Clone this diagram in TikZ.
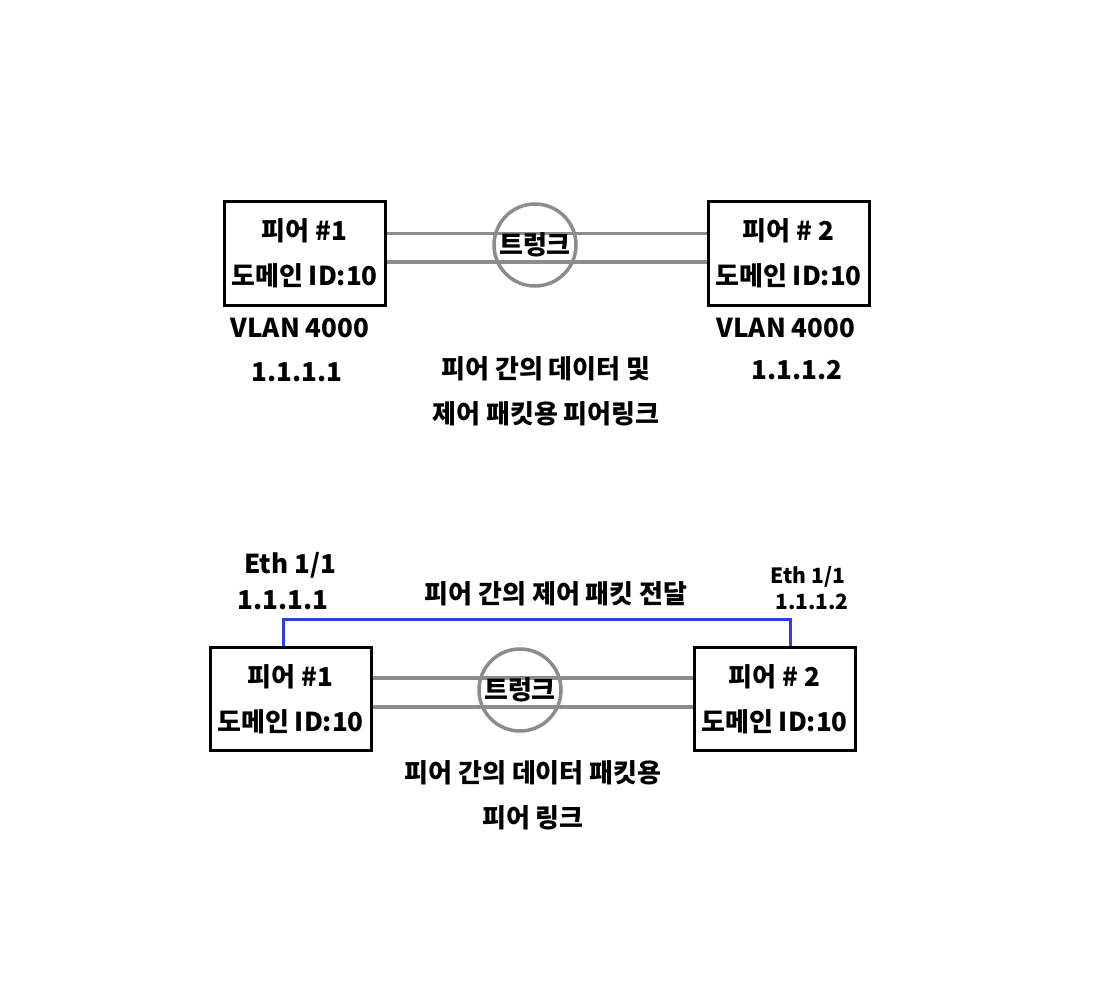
\documentclass[tikz,border=0pt]{standalone}
\usepackage{fontspec}
\newfontfamily\kofont{Noto Sans CJK KR}
\usetikzlibrary{positioning}

\begin{document}
\begin{tikzpicture}[
    x=1pt,y=-1pt,
    font=\kofont\bfseries\fontsize{26}{45}\selectfont,
    peer/.style={draw,line width=3pt,align=center,
        minimum width=161pt,minimum height=103pt,inner sep=0pt},
    trunk/.style={circle,draw=gray!90,line width=3.5pt,
        minimum size=82pt,inner sep=0pt},
    link/.style={draw=gray!90,line width=3.5pt},
    ctrl/.style={draw={rgb,255:red,50;green,60;blue,230},line width=3pt},
    lbl/.style={align=center,inner sep=0pt},
    small/.style={lbl,font=\kofont\bfseries\fontsize{21}{25}\selectfont}
]
\useasboundingbox (0,0) rectangle (1099,1000);

% upper picture: peer link
\node[peer] (peerA) at (304.5,253.5) {피어 \#1\\도메인 ID:10};
\node[peer, right=320pt of peerA] (peerB) {피어 \# 2\\도메인 ID:10};
\draw[link] ([yshift=20pt]peerA.east) -- ([yshift=20pt]peerB.west);
\draw[link] ([yshift=-8.5pt]peerA.east) -- ([yshift=-8.5pt]peerB.west);
\node[trunk] (trunkA) at (535,245) {트렁크};
\node[lbl] (vlanA) at (300,328) {VLAN 4000};
\node[lbl] (ipA) at (297,372) {1.1.1.1};
\node[lbl] (vlanB) at (786,328) {VLAN 4000};
\node[lbl] (ipB) at (797,370) {1.1.1.2};
\node[lbl] (noteA) at (546,391.5) {피어 간의 데이터 및\\제어 패킷용 피어링크};

% lower picture: control link
\node[peer] (peerC) at (290.5,699) {피어 \#1\\도메인 ID:10};
\node[peer, right=320pt of peerC] (peerD) {피어 \# 2\\도메인 ID:10};
\draw[link] ([yshift=21pt]peerC.east) -- ([yshift=21pt]peerD.west);
\draw[link] ([yshift=-8pt]peerC.east) -- ([yshift=-8pt]peerD.west);
\node[trunk] (trunkB) at (520,690) {트렁크};
\draw[ctrl] ([xshift=-7.5pt]peerC.north) -- ++(0,27pt) -| ([xshift=15.5pt]peerD.north);
\node[lbl] (ethC) at (290,565) {Eth 1/1};
\node[lbl] (ipC) at (283,600) {1.1.1.1};
\node[small] (ethD) at (808,577) {Eth 1/1};
\node[small] (ipD) at (812,602) {1.1.1.2};
\node[lbl] (noteB) at (556,594) {피어 간의 제어 패킷 전달};
\node[lbl] (noteC) at (533,795.5) {피어 간의 데이터 패킷용\\피어 링크};
\end{tikzpicture}
\end{document}
